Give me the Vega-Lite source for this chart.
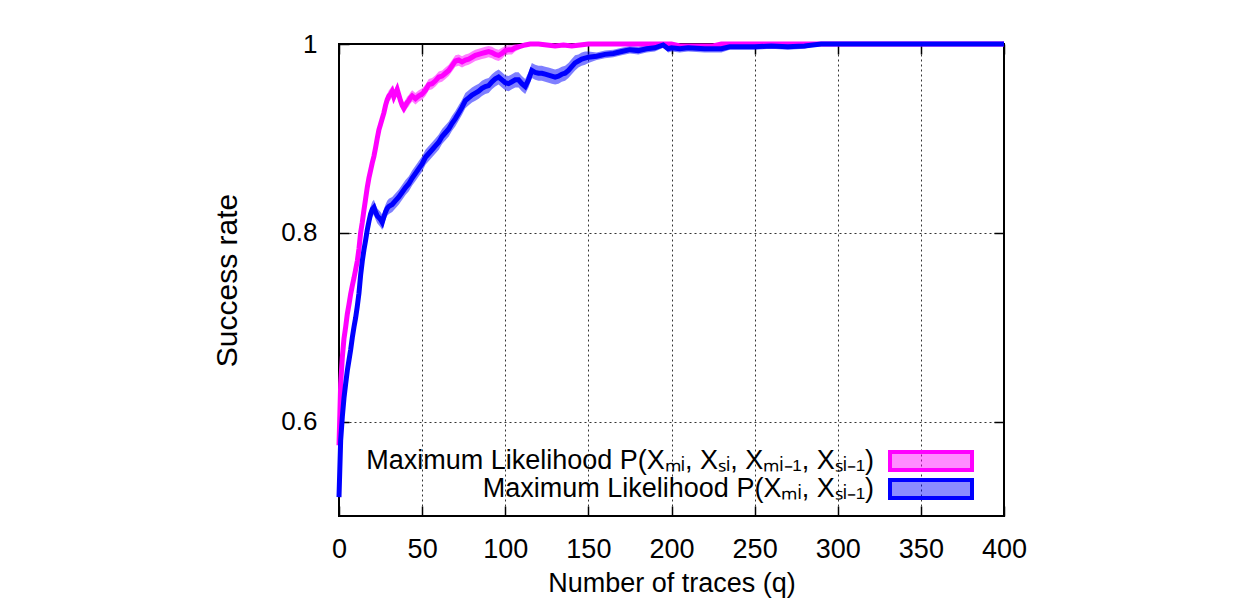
{
  "$schema": "https://vega.github.io/schema/vega-lite/v6.json",
  "width": 665,
  "height": 472,
  "autosize": {"type": "none"},
  "padding": {"left": 339, "top": 44, "right": 244, "bottom": 94},
  "background": "white",
  "config": {
    "font": "Liberation Sans",
    "view": {"stroke": "#000", "strokeWidth": 2},
    "axis": {"domain": false, "tickColor": "#000", "tickWidth": 1.5, "labelColor": "#000", "titleColor": "#000", "titleFontWeight": "normal", "labelFont": "Liberation Sans", "titleFont": "Liberation Sans", "labelFlush": false}
  },
  "data": {"values": [
    {"s":"A","q":0,"v":0.575,"lo":0.571,"hi":0.579},
    {"s":"A","q":1,"v":0.64,"lo":0.635,"hi":0.645},
    {"s":"A","q":2,"v":0.668,"lo":0.663,"hi":0.673},
    {"s":"A","q":3,"v":0.688,"lo":0.683,"hi":0.693},
    {"s":"A","q":4,"v":0.700,"lo":0.694,"hi":0.706},
    {"s":"A","q":5,"v":0.714,"lo":0.708,"hi":0.720},
    {"s":"A","q":6,"v":0.724,"lo":0.718,"hi":0.730},
    {"s":"A","q":7,"v":0.735,"lo":0.729,"hi":0.741},
    {"s":"A","q":8,"v":0.744,"lo":0.738,"hi":0.750},
    {"s":"A","q":9,"v":0.752,"lo":0.746,"hi":0.758},
    {"s":"A","q":10,"v":0.761,"lo":0.755,"hi":0.767},
    {"s":"A","q":11,"v":0.770,"lo":0.764,"hi":0.776},
    {"s":"A","q":12,"v":0.783,"lo":0.777,"hi":0.789},
    {"s":"A","q":13,"v":0.800,"lo":0.794,"hi":0.806},
    {"s":"A","q":14,"v":0.811,"lo":0.805,"hi":0.817},
    {"s":"A","q":15,"v":0.824,"lo":0.818,"hi":0.830},
    {"s":"A","q":16,"v":0.836,"lo":0.830,"hi":0.842},
    {"s":"A","q":17,"v":0.848,"lo":0.842,"hi":0.854},
    {"s":"A","q":18,"v":0.858,"lo":0.852,"hi":0.864},
    {"s":"A","q":19,"v":0.866,"lo":0.860,"hi":0.872},
    {"s":"A","q":20,"v":0.874,"lo":0.868,"hi":0.880},
    {"s":"A","q":21,"v":0.881,"lo":0.875,"hi":0.887},
    {"s":"A","q":22,"v":0.890,"lo":0.884,"hi":0.896},
    {"s":"A","q":23,"v":0.900,"lo":0.894,"hi":0.906},
    {"s":"A","q":24,"v":0.909,"lo":0.903,"hi":0.915},
    {"s":"A","q":25,"v":0.915,"lo":0.909,"hi":0.921},
    {"s":"A","q":26,"v":0.921,"lo":0.915,"hi":0.927},
    {"s":"A","q":27,"v":0.927,"lo":0.921,"hi":0.933},
    {"s":"A","q":28,"v":0.935,"lo":0.929,"hi":0.941},
    {"s":"A","q":29,"v":0.941,"lo":0.935,"hi":0.947},
    {"s":"A","q":30,"v":0.945,"lo":0.939,"hi":0.951},
    {"s":"A","q":31,"v":0.947,"lo":0.941,"hi":0.953},
    {"s":"A","q":32,"v":0.950,"lo":0.944,"hi":0.956},
    {"s":"A","q":33,"v":0.944,"lo":0.938,"hi":0.950},
    {"s":"A","q":34,"v":0.948,"lo":0.942,"hi":0.954},
    {"s":"A","q":35,"v":0.952,"lo":0.946,"hi":0.958},
    {"s":"A","q":36,"v":0.946,"lo":0.940,"hi":0.952},
    {"s":"A","q":37,"v":0.940,"lo":0.934,"hi":0.946},
    {"s":"A","q":38,"v":0.935,"lo":0.929,"hi":0.941},
    {"s":"A","q":39,"v":0.932,"lo":0.926,"hi":0.938},
    {"s":"A","q":40,"v":0.935,"lo":0.929,"hi":0.941},
    {"s":"A","q":41,"v":0.938,"lo":0.932,"hi":0.944},
    {"s":"A","q":42,"v":0.940,"lo":0.934,"hi":0.946},
    {"s":"A","q":43,"v":0.943,"lo":0.937,"hi":0.949},
    {"s":"A","q":44,"v":0.945,"lo":0.939,"hi":0.951},
    {"s":"A","q":46,"v":0.942,"lo":0.936,"hi":0.948},
    {"s":"A","q":48,"v":0.945,"lo":0.939,"hi":0.951},
    {"s":"A","q":50,"v":0.947,"lo":0.941,"hi":0.953},
    {"s":"A","q":52,"v":0.951,"lo":0.945,"hi":0.957},
    {"s":"A","q":54,"v":0.957,"lo":0.951,"hi":0.963},
    {"s":"A","q":56,"v":0.958,"lo":0.952,"hi":0.964},
    {"s":"A","q":58,"v":0.961,"lo":0.955,"hi":0.967},
    {"s":"A","q":60,"v":0.965,"lo":0.959,"hi":0.971},
    {"s":"A","q":62,"v":0.966,"lo":0.960,"hi":0.972},
    {"s":"A","q":64,"v":0.969,"lo":0.963,"hi":0.975},
    {"s":"A","q":66,"v":0.972,"lo":0.966,"hi":0.978},
    {"s":"A","q":68,"v":0.977,"lo":0.971,"hi":0.983},
    {"s":"A","q":70,"v":0.982,"lo":0.976,"hi":0.988},
    {"s":"A","q":72,"v":0.983,"lo":0.977,"hi":0.989},
    {"s":"A","q":74,"v":0.981,"lo":0.975,"hi":0.987},
    {"s":"A","q":76,"v":0.983,"lo":0.977,"hi":0.989},
    {"s":"A","q":78,"v":0.984,"lo":0.978,"hi":0.990},
    {"s":"A","q":80,"v":0.986,"lo":0.980,"hi":0.992},
    {"s":"A","q":82,"v":0.988,"lo":0.982,"hi":0.994},
    {"s":"A","q":84,"v":0.989,"lo":0.983,"hi":0.995},
    {"s":"A","q":86,"v":0.990,"lo":0.984,"hi":0.996},
    {"s":"A","q":88,"v":0.991,"lo":0.985,"hi":0.997},
    {"s":"A","q":90,"v":0.992,"lo":0.986,"hi":0.998},
    {"s":"A","q":92,"v":0.991,"lo":0.985,"hi":0.997},
    {"s":"A","q":94,"v":0.989,"lo":0.983,"hi":0.995},
    {"s":"A","q":96,"v":0.988,"lo":0.982,"hi":0.994},
    {"s":"A","q":98,"v":0.990,"lo":0.984,"hi":0.996},
    {"s":"A","q":100,"v":0.993,"lo":0.988,"hi":0.998},
    {"s":"A","q":102,"v":0.994,"lo":0.989,"hi":0.999},
    {"s":"A","q":104,"v":0.994,"lo":0.989,"hi":0.999},
    {"s":"A","q":106,"v":0.996,"lo":0.992,"hi":1},
    {"s":"A","q":108,"v":0.997,"lo":0.994,"hi":1},
    {"s":"A","q":110,"v":0.998,"lo":0.996,"hi":1},
    {"s":"A","q":112,"v":0.999,"lo":0.997,"hi":1},
    {"s":"A","q":115,"v":1,"lo":0.999,"hi":1},
    {"s":"A","q":120,"v":1,"lo":0.999,"hi":1},
    {"s":"A","q":125,"v":0.999,"lo":0.997,"hi":1},
    {"s":"A","q":130,"v":0.998,"lo":0.996,"hi":1},
    {"s":"A","q":135,"v":0.999,"lo":0.997,"hi":1},
    {"s":"A","q":140,"v":0.998,"lo":0.996,"hi":1},
    {"s":"A","q":145,"v":0.999,"lo":0.997,"hi":1},
    {"s":"A","q":150,"v":1,"lo":1,"hi":1},
    {"s":"A","q":200,"v":1,"lo":1,"hi":1},
    {"s":"A","q":205,"v":0.998,"lo":0.997,"hi":1},
    {"s":"A","q":225,"v":0.998,"lo":0.997,"hi":1},
    {"s":"A","q":230,"v":1,"lo":1,"hi":1},
    {"s":"A","q":400,"v":1,"lo":1,"hi":1},
    {"s":"B","q":0,"v":0.520,"lo":0.516,"hi":0.524},
    {"s":"B","q":1,"v":0.580,"lo":0.575,"hi":0.585},
    {"s":"B","q":2,"v":0.605,"lo":0.600,"hi":0.610},
    {"s":"B","q":3,"v":0.625,"lo":0.620,"hi":0.630},
    {"s":"B","q":4,"v":0.640,"lo":0.635,"hi":0.645},
    {"s":"B","q":5,"v":0.654,"lo":0.649,"hi":0.659},
    {"s":"B","q":6,"v":0.665,"lo":0.660,"hi":0.670},
    {"s":"B","q":7,"v":0.676,"lo":0.671,"hi":0.681},
    {"s":"B","q":8,"v":0.689,"lo":0.684,"hi":0.694},
    {"s":"B","q":9,"v":0.700,"lo":0.695,"hi":0.705},
    {"s":"B","q":10,"v":0.710,"lo":0.705,"hi":0.715},
    {"s":"B","q":11,"v":0.722,"lo":0.717,"hi":0.727},
    {"s":"B","q":12,"v":0.736,"lo":0.731,"hi":0.741},
    {"s":"B","q":13,"v":0.755,"lo":0.749,"hi":0.761},
    {"s":"B","q":14,"v":0.770,"lo":0.764,"hi":0.776},
    {"s":"B","q":15,"v":0.782,"lo":0.775,"hi":0.789},
    {"s":"B","q":16,"v":0.792,"lo":0.785,"hi":0.799},
    {"s":"B","q":17,"v":0.803,"lo":0.795,"hi":0.811},
    {"s":"B","q":18,"v":0.812,"lo":0.804,"hi":0.820},
    {"s":"B","q":19,"v":0.820,"lo":0.812,"hi":0.828},
    {"s":"B","q":20,"v":0.825,"lo":0.817,"hi":0.833},
    {"s":"B","q":21,"v":0.827,"lo":0.819,"hi":0.835},
    {"s":"B","q":22,"v":0.822,"lo":0.814,"hi":0.830},
    {"s":"B","q":23,"v":0.818,"lo":0.810,"hi":0.826},
    {"s":"B","q":24,"v":0.816,"lo":0.808,"hi":0.824},
    {"s":"B","q":25,"v":0.814,"lo":0.806,"hi":0.822},
    {"s":"B","q":26,"v":0.811,"lo":0.803,"hi":0.819},
    {"s":"B","q":27,"v":0.817,"lo":0.809,"hi":0.825},
    {"s":"B","q":28,"v":0.822,"lo":0.814,"hi":0.830},
    {"s":"B","q":29,"v":0.826,"lo":0.818,"hi":0.834},
    {"s":"B","q":30,"v":0.828,"lo":0.820,"hi":0.836},
    {"s":"B","q":32,"v":0.830,"lo":0.822,"hi":0.838},
    {"s":"B","q":34,"v":0.834,"lo":0.826,"hi":0.842},
    {"s":"B","q":36,"v":0.838,"lo":0.830,"hi":0.846},
    {"s":"B","q":38,"v":0.843,"lo":0.835,"hi":0.851},
    {"s":"B","q":40,"v":0.848,"lo":0.840,"hi":0.856},
    {"s":"B","q":42,"v":0.852,"lo":0.844,"hi":0.860},
    {"s":"B","q":44,"v":0.858,"lo":0.850,"hi":0.866},
    {"s":"B","q":46,"v":0.863,"lo":0.855,"hi":0.871},
    {"s":"B","q":48,"v":0.868,"lo":0.860,"hi":0.876},
    {"s":"B","q":50,"v":0.873,"lo":0.865,"hi":0.881},
    {"s":"B","q":52,"v":0.880,"lo":0.872,"hi":0.888},
    {"s":"B","q":54,"v":0.884,"lo":0.876,"hi":0.892},
    {"s":"B","q":56,"v":0.888,"lo":0.880,"hi":0.896},
    {"s":"B","q":58,"v":0.892,"lo":0.884,"hi":0.900},
    {"s":"B","q":60,"v":0.896,"lo":0.888,"hi":0.904},
    {"s":"B","q":62,"v":0.902,"lo":0.894,"hi":0.910},
    {"s":"B","q":64,"v":0.906,"lo":0.898,"hi":0.914},
    {"s":"B","q":66,"v":0.910,"lo":0.902,"hi":0.918},
    {"s":"B","q":68,"v":0.916,"lo":0.908,"hi":0.924},
    {"s":"B","q":70,"v":0.921,"lo":0.913,"hi":0.929},
    {"s":"B","q":72,"v":0.927,"lo":0.919,"hi":0.935},
    {"s":"B","q":74,"v":0.933,"lo":0.925,"hi":0.941},
    {"s":"B","q":76,"v":0.940,"lo":0.932,"hi":0.948},
    {"s":"B","q":78,"v":0.943,"lo":0.935,"hi":0.951},
    {"s":"B","q":80,"v":0.946,"lo":0.938,"hi":0.954},
    {"s":"B","q":82,"v":0.948,"lo":0.940,"hi":0.956},
    {"s":"B","q":84,"v":0.950,"lo":0.942,"hi":0.958},
    {"s":"B","q":86,"v":0.953,"lo":0.945,"hi":0.961},
    {"s":"B","q":88,"v":0.955,"lo":0.947,"hi":0.963},
    {"s":"B","q":90,"v":0.956,"lo":0.948,"hi":0.964},
    {"s":"B","q":92,"v":0.960,"lo":0.952,"hi":0.968},
    {"s":"B","q":94,"v":0.963,"lo":0.955,"hi":0.971},
    {"s":"B","q":96,"v":0.965,"lo":0.957,"hi":0.973},
    {"s":"B","q":98,"v":0.962,"lo":0.954,"hi":0.970},
    {"s":"B","q":100,"v":0.959,"lo":0.951,"hi":0.967},
    {"s":"B","q":102,"v":0.958,"lo":0.950,"hi":0.966},
    {"s":"B","q":104,"v":0.960,"lo":0.952,"hi":0.968},
    {"s":"B","q":106,"v":0.962,"lo":0.954,"hi":0.970},
    {"s":"B","q":108,"v":0.962,"lo":0.954,"hi":0.970},
    {"s":"B","q":110,"v":0.958,"lo":0.950,"hi":0.966},
    {"s":"B","q":112,"v":0.955,"lo":0.947,"hi":0.963},
    {"s":"B","q":114,"v":0.962,"lo":0.954,"hi":0.970},
    {"s":"B","q":116,"v":0.972,"lo":0.964,"hi":0.980},
    {"s":"B","q":118,"v":0.970,"lo":0.962,"hi":0.978},
    {"s":"B","q":120,"v":0.969,"lo":0.961,"hi":0.977},
    {"s":"B","q":122,"v":0.969,"lo":0.961,"hi":0.977},
    {"s":"B","q":124,"v":0.968,"lo":0.960,"hi":0.976},
    {"s":"B","q":126,"v":0.967,"lo":0.959,"hi":0.975},
    {"s":"B","q":128,"v":0.966,"lo":0.958,"hi":0.974},
    {"s":"B","q":130,"v":0.965,"lo":0.957,"hi":0.973},
    {"s":"B","q":132,"v":0.966,"lo":0.958,"hi":0.974},
    {"s":"B","q":134,"v":0.968,"lo":0.960,"hi":0.976},
    {"s":"B","q":136,"v":0.969,"lo":0.961,"hi":0.977},
    {"s":"B","q":138,"v":0.972,"lo":0.964,"hi":0.980},
    {"s":"B","q":140,"v":0.976,"lo":0.968,"hi":0.984},
    {"s":"B","q":142,"v":0.980,"lo":0.972,"hi":0.988},
    {"s":"B","q":144,"v":0.982,"lo":0.975,"hi":0.989},
    {"s":"B","q":146,"v":0.984,"lo":0.977,"hi":0.991},
    {"s":"B","q":148,"v":0.985,"lo":0.978,"hi":0.992},
    {"s":"B","q":150,"v":0.986,"lo":0.980,"hi":0.992},
    {"s":"B","q":155,"v":0.987,"lo":0.983,"hi":0.991},
    {"s":"B","q":160,"v":0.989,"lo":0.985,"hi":0.993},
    {"s":"B","q":165,"v":0.990,"lo":0.986,"hi":0.994},
    {"s":"B","q":170,"v":0.992,"lo":0.988,"hi":0.996},
    {"s":"B","q":175,"v":0.994,"lo":0.990,"hi":0.998},
    {"s":"B","q":180,"v":0.993,"lo":0.989,"hi":0.997},
    {"s":"B","q":185,"v":0.995,"lo":0.991,"hi":0.999},
    {"s":"B","q":190,"v":0.996,"lo":0.992,"hi":1},
    {"s":"B","q":195,"v":0.999,"lo":0.996,"hi":1},
    {"s":"B","q":198,"v":0.995,"lo":0.991,"hi":0.999},
    {"s":"B","q":200,"v":0.996,"lo":0.992,"hi":1},
    {"s":"B","q":205,"v":0.995,"lo":0.991,"hi":0.999},
    {"s":"B","q":210,"v":0.996,"lo":0.992,"hi":1},
    {"s":"B","q":220,"v":0.995,"lo":0.991,"hi":0.999},
    {"s":"B","q":230,"v":0.995,"lo":0.991,"hi":0.999},
    {"s":"B","q":235,"v":0.997,"lo":0.994,"hi":1},
    {"s":"B","q":250,"v":0.997,"lo":0.994,"hi":1},
    {"s":"B","q":260,"v":0.998,"lo":0.995,"hi":1},
    {"s":"B","q":270,"v":0.997,"lo":0.994,"hi":1},
    {"s":"B","q":280,"v":0.998,"lo":0.995,"hi":1},
    {"s":"B","q":290,"v":1,"lo":1,"hi":1},
    {"s":"B","q":400,"v":1,"lo":1,"hi":1}
  ]},
  "layer": [
    {
      "mark": {"type": "area", "opacity": 0.5, "clip": false},
      "encoding": {
        "x": {"field": "q", "type": "quantitative", "scale": {"domain": [0, 400], "nice": false},
              "axis": {"orient": "bottom", "values": [0,50,100,150,200,250,300,350,400], "grid": true, "gridDash": [2, 3], "gridColor": "#000", "gridOpacity": 0.8, "gridWidth": 1,
                       "tickSize": -10, "labelFontSize": 27, "labelPadding": 30, "title": "Number of traces (q)", "titleFontSize": 27, "titlePadding": 8}},
        "y": {"field": "lo", "type": "quantitative", "scale": {"domain": [0.5, 1], "nice": false, "zero": false},
              "axis": {"orient": "left", "values": [0.6, 0.8, 1], "format": ".1~f", "grid": true, "gridDash": [2, 3], "gridColor": "#000", "gridOpacity": 0.8, "gridWidth": 1,
                       "tickSize": -10, "labelFontSize": 26, "labelPadding": 32, "title": "Success rate", "titleFontSize": 30, "titlePadding": 38}},
        "y2": {"field": "hi"},
        "color": {"field": "s", "type": "nominal", "scale": {"domain": ["A", "B"], "range": ["#ff00ff", "#0000ff"]}}
      }
    },
    {
      "mark": {"type": "line", "strokeWidth": 5, "clip": false},
      "encoding": {
        "x": {"field": "q", "type": "quantitative", "scale": {"domain": [0, 400], "nice": false},
              "axis": {"orient": "top", "values": [0,50,100,150,200,250,300,350,400], "grid": false, "labels": false, "tickSize": -10, "title": null}},
        "y": {"field": "v", "type": "quantitative", "scale": {"domain": [0.5, 1], "nice": false, "zero": false},
              "axis": {"orient": "right", "values": [0.6, 0.8, 1], "grid": false, "labels": false, "tickSize": -10, "title": null}},
        "color": {"field": "s", "type": "nominal", "scale": {"domain": ["A", "B"], "range": ["#ff00ff", "#0000ff"]},
                  "legend": {"orient": "none", "legendX": 548, "legendY": 403, "title": null, "padding": 0,
                             "symbolType": "M-1,-0.22H1V0.22H-1Z", "symbolSize": 6724, "symbolStrokeWidth": 4, "clipHeight": 28, "rowPadding": 0,
                             "labelAlign": "right", "labelOffset": -99, "labelFontSize": 27, "labelColor": "#000", "labelLimit": 0,
                             "labelExpr": "datum.value == 'A' ? 'Maximum Likelihood P(Xₘᵢ, Xₛᵢ, Xₘᵢ₋₁, Xₛᵢ₋₁)' : 'Maximum Likelihood P(Xₘᵢ, Xₛᵢ₋₁)'",
                             "encode": {
                               "entries": {"update": {"width": {"value": 100}}},
                               "symbols": {"update": {"x": {"value": 44}, "fill": {"scale": "color", "field": "value"}, "fillOpacity": {"value": 0.45}, "stroke": {"scale": "color", "field": "value"}, "strokeWidth": {"value": 4}, "opacity": {"value": 1}}}}}}
      }
    }
  ],
  "resolve": {"axis": {"x": "independent", "y": "independent"}}
}
